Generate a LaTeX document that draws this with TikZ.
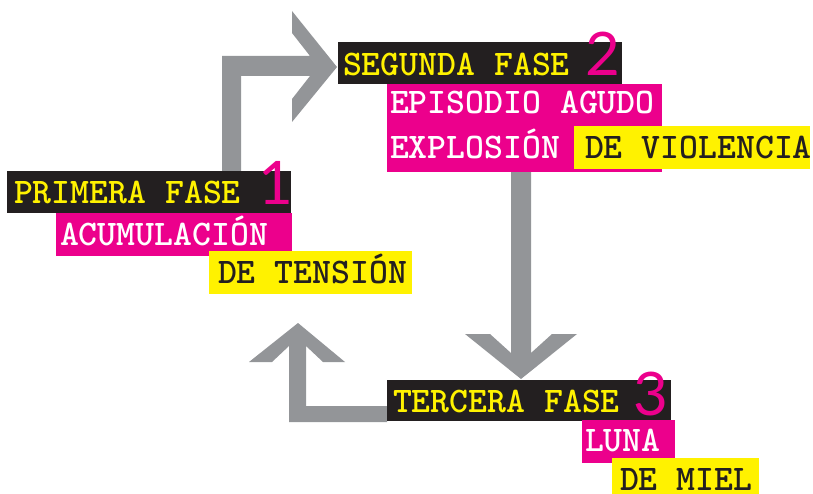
\documentclass[tikz,border=0pt]{standalone}
\usepackage{fontspec}
\newfontfamily\numf{Lato}
\definecolor{cblack}{HTML}{231F20}
\definecolor{cpink}{HTML}{EC008C}
\definecolor{cyellow}{HTML}{FFF200}
\definecolor{cgray}{HTML}{939598}
\tikzset{
  box/.style={anchor=north west, inner sep=0pt, outer sep=0pt, draw=none},
  blackbox/.style={box, fill=cblack},
  pinkbox/.style={box, fill=cpink},
  yellowbox/.style={box, fill=cyellow},
  lbl/.style={anchor=base west, inner sep=0pt, outer sep=0pt, font=\ttfamily\bfseries\fontsize{36}{40}\selectfont},
  onblack/.style={lbl, text=cyellow},
  onpink/.style={lbl, text=white},
  onyellow/.style={lbl, text=cblack},
  num/.style={anchor=base west, inner sep=0pt, outer sep=0pt, text=cpink, font=\numf\fontsize{60}{60}\selectfont},
  arrowshape/.style={fill=cgray, draw=none}
}
\begin{document}
\begin{tikzpicture}[x=1pt,y=-1pt]
\useasboundingbox (0,0) rectangle (813,494);

% arrows
\fill[arrowshape] (222,171) -- (222,56) -- (310,56) -- (292,33) -- (292,11) -- (337,67)
  -- (292,122) -- (292,99) -- (310,76) -- (241,76) -- (241,171) -- cycle;
\fill[arrowshape] (511,172) -- (511,353) -- (490,334) -- (465,334) -- (521,379) -- (577,334)
  -- (552,334) -- (531,353) -- (531,172) -- cycle;
\fill[arrowshape] (298,323) -- (249,362) -- (272,362) -- (289,346) -- (289,422) -- (387,422)
  -- (387,406) -- (306,406) -- (306,346) -- (323,362) -- (345,362) -- cycle;

% phase 1
\node[blackbox, minimum width=284pt, minimum height=42pt] (b1) at (7,171) {};
\node[pinkbox, minimum width=236pt, minimum height=43pt] (p1) at (56,213) {};
\node[yellowbox, minimum width=203pt, minimum height=43pt] (y1) at (209,251) {};
\node[onblack] (t1) at (14,204) {PRIMERA FASE};
\node[onpink] (t1b) at (60,245) {ACUMULACIÓN};
\node[onyellow] (t1c) at (218,283) {DE TENSIÓN};
\node[num] (n1) at (258,205) {1};

% phase 2
\node[blackbox, minimum width=284pt, minimum height=42pt] (b2) at (338,42) {};
\node[pinkbox, minimum width=275pt, minimum height=88pt] (p2) at (387,84) {};
\node[yellowbox, minimum width=236pt, minimum height=43pt] (y2) at (574,126) {};
\node[onblack] (t2) at (343,76) {SEGUNDA FASE};
\node[onpink] (t2b) at (390,114) {EPISODIO AGUDO};
\node[onpink] (t2c) at (390,159) {EXPLOSIÓN};
\node[onyellow] (t2d) at (585,159) {DE VIOLENCIA};
\node[num] (n2) at (585,76) {2};

% phase 3
\node[blackbox, minimum width=284pt, minimum height=41pt] (b3) at (387,380) {};
\node[pinkbox, minimum width=93pt, minimum height=43pt] (p3) at (582,420) {};
\node[yellowbox, minimum width=147pt, minimum height=36pt] (y3) at (612,458) {};
\node[onblack] (t3) at (393,412) {TERCERA FASE};
\node[onpink] (t3b) at (585,451) {LUNA};
\node[onyellow] (t3c) at (620,490) {DE MIEL};
\node[num] (n3) at (633,415) {3};
\end{tikzpicture}
\end{document}
